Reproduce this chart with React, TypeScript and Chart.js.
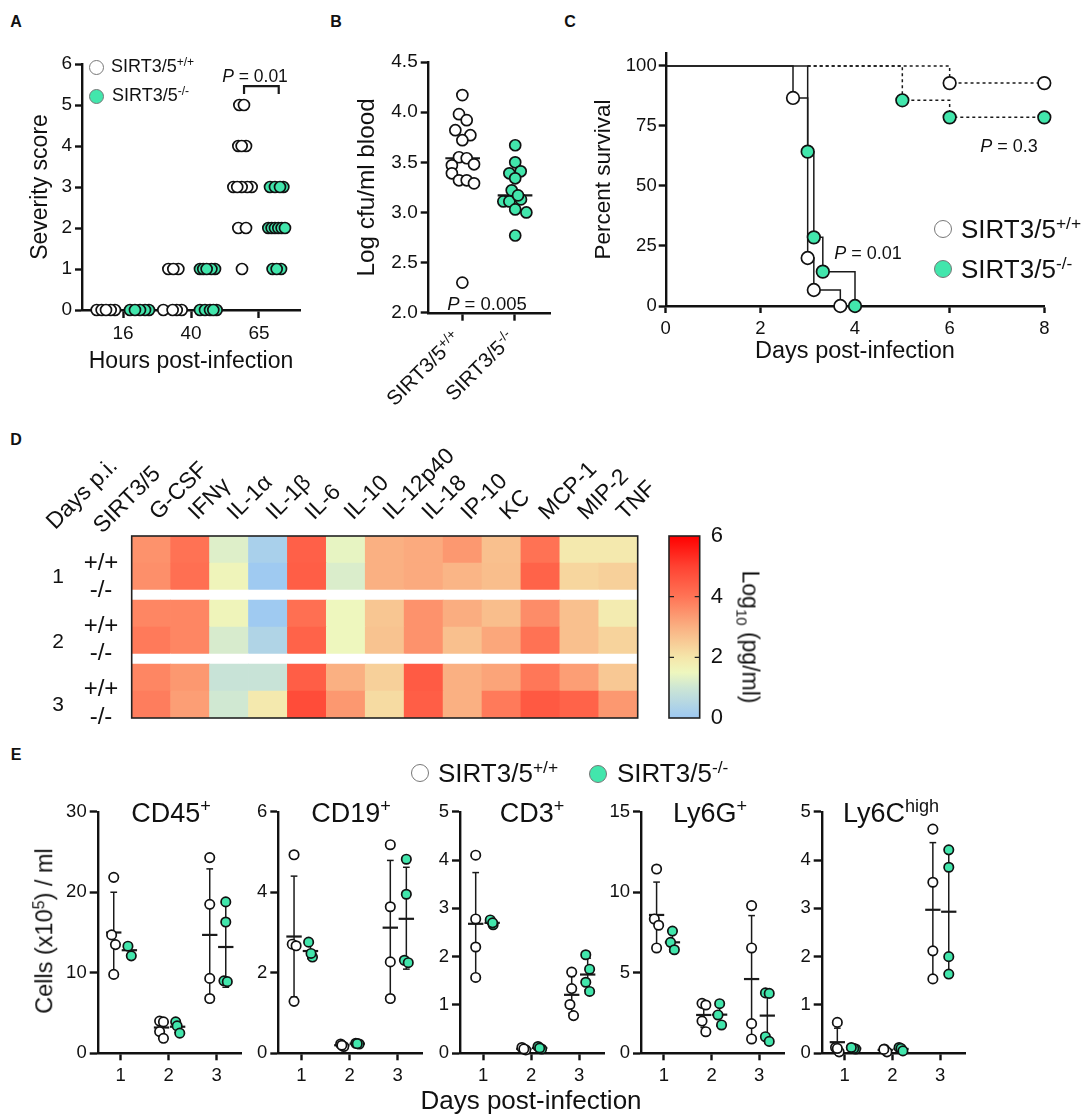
import React, { useEffect, useRef } from "react";
import { Chart, registerables } from "chart.js";

Chart.register(...registerables);
Chart.defaults.font.family = "'Liberation Sans', Arial, sans-serif";
Chart.defaults.color = "#111";

// ---------- Panel A: severity score ----------
const hoursLabels = ["16", "40", "65"];
const severityTicks = [0, 1, 2, 3, 4, 5, 6];
const severityWt = [
  [0.613, 0], [0.686, 0], [0.882, 0], [0.819, 0], [0.75, 0],
  [1.593, 0], [1.863, 0], [1.79, 0], [1.73, 0],
  [1.667, 1], [1.814, 1], [1.74, 1],
  [2.75, 1], [2.696, 2], [2.809, 2],
  [2.623, 3], [2.892, 3], [2.828, 3], [2.745, 3], [2.68, 3],
  [2.696, 4], [2.809, 4], [2.745, 4],
  [2.711, 5], [2.779, 5],
];
const severityKo = [
  [1.103, 0], [1.382, 0], [1.324, 0], [1.25, 0], [1.176, 0],
  [2.132, 0], [2.377, 0], [2.206, 0], [2.28, 0], [2.328, 0],
  [2.132, 1], [2.18, 1], [2.353, 1], [2.30, 1], [2.23, 1],
  [3.2, 1], [3.324, 1], [3.26, 1],
  [3.137, 2], [3.186, 2], [3.235, 2], [3.284, 2], [3.333, 2], [3.382, 2],
  [3.162, 3], [3.358, 3], [3.235, 3], [3.309, 3],
];
const severityBracket = [[2.78, 5.27], [2.78, 5.46], [3.29, 5.46], [3.29, 5.27]];

// ---------- Panel B: blood cfu ----------
const cfuTicks = [2.0, 2.5, 3.0, 3.5, 4.0, 4.5];
const cfuWt = [
  [1.0, 4.17], [0.936, 3.98], [1.083, 3.92], [0.866, 3.82], [1.153, 3.77], [1.0, 3.72],
  [0.936, 3.55], [1.083, 3.54], [0.8, 3.47], [1.223, 3.48], [0.8, 3.39], [0.936, 3.32],
  [1.083, 3.32], [1.223, 3.29], [1.0, 2.3],
];
const cfuKo = [
  [2.01, 3.67], [2.01, 3.5], [1.898, 3.39], [2.115, 3.41], [2.12, 3.13], [2.01, 3.34],
  [1.943, 3.22], [1.783, 3.11], [1.898, 3.11], [2.064, 3.17], [2.01, 3.03], [2.223, 3.0], [2.01, 2.77],
];
const cfuMeanWt = [[0.675, 3.54], [1.337, 3.54]];
const cfuMeanKo = [[1.675, 3.17], [2.338, 3.17]];

// ---------- Panel C: survival ----------
const survivalXTicks = [0, 2, 4, 6, 8];
const survivalYTicks = [0, 25, 50, 75, 100];
const survWtSolid = [[0, 100], [2.69, 86.67], [3.0, 20], [3.13, 6.67], [3.69, 0], [4, 0]];
const survKoSolid = [[0, 100], [3.0, 64.3], [3.13, 28.6], [3.32, 14.3], [4.0, 0]];
const survWtDash = [[3, 100], [6, 92.86], [8, 92.86]];
const survKoDash = [[3, 100], [5, 85.7], [6, 78.6], [8, 78.6]];
const survWtMarks = [[2.69, 86.67], [3.0, 20], [3.13, 6.67], [3.69, 0], [6, 92.86], [8, 92.86]];
const survKoMarks = [[3.0, 64.3], [3.13, 28.6], [3.32, 14.3], [4.0, 0], [5, 85.7], [6, 78.6], [8, 78.6]];

// ---------- Panel D: heat map (log10 pg/ml) ----------
const cytokines = ["G-CSF", "IFNγ", "IL-1α", "IL-1β", "IL-6", "IL-10", "IL-12p40", "IL-18", "IP-10", "KC", "MCP-1", "MIP-2", "TNF"];
const day1Wt = [3.5, 4.05, 1.25, 0.25, 4.4, 1.4, 3.0, 3.1, 3.4, 2.7, 4.05, 1.9, 1.9];
const day1Ko = [3.55, 4.1, 1.6, 0.05, 4.45, 1.2, 3.0, 3.1, 2.9, 2.75, 4.35, 2.3, 2.4];
const day2Wt = [3.7, 3.7, 1.6, 0.05, 4.1, 1.5, 2.6, 3.5, 3.05, 2.75, 3.6, 2.7, 1.85];
const day2Ko = [3.9, 3.7, 1.15, 0.4, 4.35, 1.5, 2.65, 3.5, 2.7, 3.15, 4.05, 2.7, 2.35];
const day3Wt = [3.7, 3.4, 0.9, 0.9, 4.45, 3.0, 2.4, 4.5, 3.0, 3.2, 3.95, 3.3, 2.55];
const day3Ko = [3.85, 3.3, 1.05, 1.9, 4.8, 3.4, 2.2, 4.45, 3.0, 3.9, 4.55, 4.35, 3.4];
const colorStops: [number, number[]][] = [
  [0, [157, 200, 242]], [1, [205, 230, 212]], [1.5, [238, 247, 190]], [2, [245, 230, 170]],
  [3, [250, 176, 130]], [4, [255, 116, 86]], [5, [255, 66, 50]], [6, [255, 0, 0]],
];
const colorbarTicks = [0, 2, 4, 6];

// ---------- Panel E: cell counts; bars are [x, mean, sd low, sd high] ----------
const dayLabels = ["1", "2", "3"];
const cd45Ticks = [0, 10, 20, 30];
const cd45Wt = [[0.854, 21.85], [0.81, 14.7], [0.89, 13.5], [0.854, 9.8], [1.81, 4.0], [1.89, 3.9], [1.81, 2.7], [1.89, 1.86], [2.854, 24.3], [2.854, 18.5], [2.854, 9.3], [2.854, 6.8]];
const cd45Ko = [[1.15, 13.3], [1.22, 12.1], [2.145, 3.9], [2.175, 3.4], [2.23, 2.5], [3.188, 18.8], [3.188, 16.3], [3.15, 9.0], [3.22, 8.9]];
const cd45Bars = [[0.854, 15, 10, 20], [1.18, 12.8, 12.2, 13.4], [1.85, 3.2, 2.2, 4.1], [2.185, 3.3, 2.6, 4.0], [2.854, 14.7, 6.6, 22.9], [3.188, 13.2, 8.2, 18.4]];

const cd19Ticks = [0, 2, 4, 6];
const cd19Wt = [[0.847, 4.93], [0.81, 2.71], [0.89, 2.67], [0.847, 1.29], [1.815, 0.23], [1.88, 0.17], [1.84, 0.2], [2.847, 5.18], [2.847, 3.64], [2.847, 2.27], [2.847, 1.36]];
const cd19Ko = [[1.15, 2.76], [1.23, 2.39], [1.2, 2.48], [2.13, 0.25], [2.2, 0.23], [2.16, 0.24], [3.18, 4.82], [3.18, 3.95], [3.14, 2.31], [3.22, 2.25]];
const cd19Bars = [[0.847, 2.9, 1.4, 4.4], [1.188, 2.54, 2.35, 2.75], [1.84, 0.2, 0.17, 0.23], [2.16, 0.24, 0.22, 0.26], [2.847, 3.12, 1.45, 4.79], [3.18, 3.34, 2.09, 4.62]];

const cd3Ticks = [0, 1, 2, 3, 4, 5];
const cd3Wt = [[0.847, 4.1], [0.847, 2.78], [0.847, 2.2], [0.847, 1.57], [1.81, 0.12], [1.89, 0.07], [1.85, 0.09], [2.847, 1.68], [2.847, 1.34], [2.81, 1.01], [2.885, 0.78]];
const cd3Ko = [[1.15, 2.76], [1.21, 2.66], [1.2, 2.7], [2.145, 0.14], [2.22, 0.09], [2.18, 0.11], [3.14, 2.04], [3.22, 1.74], [3.14, 1.47], [3.22, 1.28]];
const cd3Bars = [[0.847, 2.68, 1.62, 3.74], [1.19, 2.7, 2.64, 2.76], [1.85, 0.09, 0.06, 0.12], [2.18, 0.11, 0.08, 0.14], [2.847, 1.21, 0.83, 1.59], [3.18, 1.63, 1.31, 1.97]];

const ly6gTicks = [0, 5, 10, 15];
const ly6gWt = [[0.847, 11.44], [0.8, 8.34], [0.89, 7.95], [0.847, 6.54], [1.8, 3.1], [1.88, 3.0], [1.8, 2.0], [1.88, 1.34], [2.84, 9.17], [2.84, 6.54], [2.84, 1.84], [2.84, 0.89]];
const ly6gKo = [[1.18, 7.59], [1.14, 6.89], [1.22, 6.43], [2.17, 3.08], [2.135, 2.38], [2.21, 1.76], [3.13, 3.75], [3.21, 3.72], [3.13, 1.03], [3.21, 0.74]];
const ly6gBars = [[0.847, 8.59, 6.55, 10.63], [1.18, 6.89, 6.3, 7.5], [1.836, 2.38, 1.6, 3.1], [2.17, 2.4, 1.7, 3.1], [2.84, 4.61, 0.7, 8.55], [3.17, 2.34, 0.85, 3.7]];

const ly6cTicks = [0, 1, 2, 3, 4, 5];
const ly6cWt = [[0.847, 0.64], [0.81, 0.12], [0.885, 0.03], [0.847, 0.1], [1.83, 0.09], [1.885, 0.03], [1.82, 0.08], [2.847, 4.64], [2.847, 3.54], [2.847, 2.12], [2.847, 1.54]];
const ly6cKo = [[1.23, 0.09], [1.19, 0.1], [1.14, 0.12], [2.14, 0.12], [2.18, 0.1], [2.22, 0.05], [3.18, 4.21], [3.18, 3.85], [3.18, 2.0], [3.18, 1.64]];
const ly6cBars = [[0.847, 0.23, 0.05, 0.52], [1.19, 0.1, 0.08, 0.12], [1.85, 0.07, 0.04, 0.1], [2.18, 0.09, 0.06, 0.12], [2.847, 2.97, 1.58, 4.36], [3.18, 2.93, 1.65, 4.2]];

// ---------- Styles ----------
const FONT = "'Liberation Sans', Arial, sans-serif";
const WT = "#ffffff";
const KO = "#42E6AC";
const INK = "#111111";

type Pair = number[];
const toXY = (rows: Pair[]) => rows.map(([x, y]) => ({ x, y }));

const dots = (rows: Pair[], fill: string, r: number, bw = 1.7) => ({
  data: toXY(rows),
  showLine: false,
  pointRadius: r,
  pointHoverRadius: r,
  pointBackgroundColor: fill,
  pointBorderColor: INK,
  pointBorderWidth: bw,
  clip: false,
});

const path = (rows: Pair[], width: number, extra: any = {}) => ({
  data: toXY(rows),
  showLine: true,
  borderColor: "#1a1a1a",
  borderWidth: width,
  pointRadius: 0,
  tension: 0,
  clip: false,
  ...extra,
});

const errorBars = (bars: Pair[]) =>
  bars.flatMap(([x, mean, lo, hi]) => [
    path([[x, lo], [x, hi]], 1.5),
    path([[x - 0.07, hi], [x + 0.07, hi]], 1.5),
    path([[x - 0.07, lo], [x + 0.07, lo]], 1.5),
    path([[x - 0.16, mean], [x + 0.16, mean]], 2.2),
  ]);

type Box = { left: number; top: number; right: number; bottom: number };
type Plot = { l: number; t: number; r: number; b: number };

const axisBase = (ticksAt: number[], size: number, len: number, pad: number, labels?: string[]) => ({
  type: "linear",
  grid: { drawOnChartArea: false, drawTicks: true, tickLength: len, tickWidth: 2.4, tickColor: INK },
  border: { display: true, color: INK, width: 2.4 },
  afterBuildTicks: (s: any) => {
    s.ticks = ticksAt.map((value) => ({ value }));
  },
  ticks: {
    autoSkip: false,
    maxRotation: 0,
    minRotation: 0,
    includeBounds: false,
    padding: pad,
    color: INK,
    font: { size, family: FONT },
    callback: (v: number, i: number) => (labels ? labels[i] : String(v)),
  },
});

function xyOptions(box: Box, plot: Plot, x: any, y: any): any {
  return {
    responsive: false,
    animation: false,
    devicePixelRatio: 1,
    layout: {
      padding: { left: 0, top: plot.t - box.top, right: box.right - plot.r, bottom: 0 },
    },
    plugins: { legend: { display: false }, tooltip: { enabled: false } },
    scales: {
      x: { ...x, afterFit: (s: any) => { s.height = box.bottom - plot.b; } },
      y: { ...y, afterFit: (s: any) => { s.width = plot.l - box.left; } },
    },
  };
}

function ChartBox({ box, make }: { box: Box; make: () => any }) {
  const ref = useRef<HTMLCanvasElement | null>(null);
  useEffect(() => {
    const chart = new Chart(ref.current as HTMLCanvasElement, make());
    return () => chart.destroy();
  }, []);
  const w = box.right - box.left;
  const h = box.bottom - box.top;
  return (
    <canvas
      ref={ref}
      width={w}
      height={h}
      style={{ position: "absolute", left: box.left, top: box.top, width: w, height: h }}
    />
  );
}

// Text helpers
function Txt({ x, y, size, children, bold, anchor = "center", rotate = 0 }: any) {
  const origin = anchor === "start" ? "left center" : anchor === "end" ? "right center" : "center center";
  const shift = anchor === "start" ? "translate(0,-50%)" : anchor === "end" ? "translate(-100%,-50%)" : "translate(-50%,-50%)";
  return (
    <div
      style={{
        position: "absolute",
        left: x,
        top: y,
        fontFamily: FONT,
        fontSize: size,
        fontWeight: bold ? 700 : 400,
        lineHeight: 1,
        color: INK,
        whiteSpace: "nowrap",
        transformOrigin: origin,
        transform: `${shift} rotate(${rotate}deg)`,
      }}
    >
      {children}
    </div>
  );
}
const Sup = ({ children, s = 0.67 }: any) => (
  <sup style={{ fontSize: `${s}em`, lineHeight: 0, verticalAlign: "0.5em" }}>{children}</sup>
);
const Pval = ({ v }: { v: string }) => (
  <>
    <i>P</i> = {v}
  </>
);
const Dot = ({ x, y, d, fill }: any) => (
  <div
    style={{
      position: "absolute",
      left: x - d / 2,
      top: y - d / 2,
      width: d,
      height: d,
      boxSizing: "border-box",
      borderRadius: "50%",
      background: fill,
      border: "1.5px solid #777",
    }}
  />
);
const Geno = ({ ko }: { ko?: boolean }) => (
  <>
    SIRT3/5<Sup>{ko ? "-/-" : "+/+"}</Sup>
  </>
);

// ---------- Chart configs ----------
function severityChart(box: Box) {
  const plot = { l: 82, t: 64, r: 300, b: 310 };
  const o = xyOptions(
    box, plot,
    { ...axisBase([1, 2, 3], 19, 8, 4, hoursLabels), min: 0.397, max: 3.603,
      title: { display: true, text: "Hours post-infection", font: { size: 23, family: FONT }, color: INK, padding: 0 } },
    { ...axisBase(severityTicks, 19, 7, 3), min: 0, max: 6,
      title: { display: true, text: "Severity score", font: { size: 23, family: FONT }, color: INK, padding: 0 } }
  );
  return {
    type: "scatter",
    data: { datasets: [dots(severityKo, KO, 5.5), dots(severityWt, WT, 5.5), path(severityBracket, 2.2)] },
    options: o,
  };
}

function cfuChart(box: Box) {
  const plot = { l: 428.7, t: 62, r: 550.7, b: 312.7 };
  const o = xyOptions(
    box, plot,
    { ...axisBase([1, 2], 19, 8, 3, ["", ""]), min: 0.357, max: 2.688 },
    { ...axisBase(cfuTicks, 19, 8, 3), min: 2, max: 4.5,
      ticks: { ...axisBase(cfuTicks, 19, 8, 3).ticks, callback: (v: number) => v.toFixed(1) },
      title: { display: true, text: "Log cfu/ml blood", font: { size: 24.3, family: FONT }, color: INK, padding: 0 } }
  );
  return {
    type: "scatter",
    data: { datasets: [dots(cfuWt, WT, 5.5), dots(cfuKo, KO, 5.5), path(cfuMeanWt, 2.2), path(cfuMeanKo, 2.2)] },
    options: o,
  };
}

function survivalChart(box: Box) {
  const plot = { l: 665.7, t: 53, r: 1044.3, b: 306 };
  const o = xyOptions(
    box, plot,
    { ...axisBase(survivalXTicks, 18.5, 7, 5), min: 0, max: 8,
      title: { display: true, text: "Days post-infection", font: { size: 23.5, family: FONT }, color: INK, padding: 0 } },
    { ...axisBase(survivalYTicks, 18.5, 7, 2), min: 0, max: 105.4,
      title: { display: true, text: "Percent survival", font: { size: 22.5, family: FONT }, color: INK, padding: 0 } }
  );
  return {
    type: "scatter",
    data: {
      datasets: [
        dots(survKoMarks, KO, 6.3),
        dots(survWtMarks, WT, 6.3),
        path(survWtSolid, 1.5, { stepped: "before" }),
        path(survKoSolid, 1.5, { stepped: "before" }),
        path(survWtDash, 1.5, { stepped: "before", borderDash: [3, 3] }),
        path(survKoDash, 1.5, { stepped: "before", borderDash: [3, 3] }),
      ],
    },
    options: o,
  };
}

function heatColor(v: number) {
  for (let i = 1; i < colorStops.length; i++) {
    const [p1, c1] = colorStops[i];
    const [p0, c0] = colorStops[i - 1];
    if (v <= p1) {
      const t = (v - p0) / (p1 - p0);
      const c = c0.map((a, k) => Math.round(a + (c1[k] - a) * t));
      return `rgb(${c[0]},${c[1]},${c[2]})`;
    }
  }
  return "rgb(255,0,0)";
}

const framePlugin = {
  id: "frame",
  afterDraw(chart: any) {
    const { ctx, chartArea: a } = chart;
    ctx.save();
    ctx.strokeStyle = "#222";
    ctx.lineWidth = 1.6;
    ctx.strokeRect(a.left, a.top, a.right - a.left, a.bottom - a.top);
    ctx.restore();
  },
};

function heatChart(box: Box) {
  const plot = { l: 131.7, t: 536, r: 637.7, b: 718 };
  const GAP = 10 / 27;
  const cell = (rows: number[]) => ({
    data: rows.map(() => 1),
    backgroundColor: rows.map(heatColor),
    borderWidth: 0,
    stack: "a",
    barPercentage: 1,
    categoryPercentage: 1,
  });
  const gap = () => ({
    data: cytokines.map(() => GAP),
    backgroundColor: "#ffffff",
    borderWidth: 0,
    stack: "a",
    barPercentage: 1,
    categoryPercentage: 1,
  });
  return {
    type: "bar",
    data: {
      labels: cytokines,
      datasets: [cell(day3Ko), cell(day3Wt), gap(), cell(day2Ko), cell(day2Wt), gap(), cell(day1Ko), cell(day1Wt)],
    },
    plugins: [framePlugin],
    options: {
      responsive: false,
      animation: false,
      devicePixelRatio: 1,
      layout: { padding: { left: plot.l - box.left, top: 0, right: box.right - plot.r, bottom: box.bottom - plot.b } },
      plugins: { legend: { display: false }, tooltip: { enabled: false } },
      scales: {
        x: {
          position: "top",
          stacked: true,
          grid: { display: false, drawTicks: false },
          border: { display: false },
          afterFit: (s: any) => { s.height = plot.t - box.top; },
          ticks: { autoSkip: false, minRotation: 45, maxRotation: 45, padding: 10, labelOffset: 22, color: INK, font: { size: 22.8, family: FONT } },
        },
        y: { display: false, stacked: true, min: 0, max: 6 + 2 * GAP },
      },
    },
  };
}

const innerTicks = {
  id: "innerTicks",
  afterDraw(chart: any) {
    const { ctx, chartArea: a, scales } = chart;
    ctx.save();
    ctx.strokeStyle = "#222";
    ctx.lineWidth = 1.4;
    [2, 4].forEach((v) => {
      const y = scales.y.getPixelForValue(v);
      ctx.beginPath();
      ctx.moveTo(a.left, y);
      ctx.lineTo(a.left + 5, y);
      ctx.moveTo(a.right - 5, y);
      ctx.lineTo(a.right, y);
      ctx.stroke();
    });
    ctx.restore();
  },
};

function colorbarChart(box: Box) {
  const plot = { l: 669, t: 536, r: 699.7, b: 718 };
  return {
    type: "bar",
    data: {
      labels: [""],
      datasets: [
        {
          data: [6],
          barPercentage: 1,
          categoryPercentage: 1,
          borderWidth: 0,
          backgroundColor: (c: any) => {
            const a = c.chart.chartArea;
            if (!a) return "#fff";
            const g = c.chart.ctx.createLinearGradient(0, a.bottom, 0, a.top);
            colorStops.forEach(([p, col]) => g.addColorStop(p / 6, `rgb(${col[0]},${col[1]},${col[2]})`));
            return g;
          },
        },
      ],
    },
    plugins: [framePlugin, innerTicks],
    options: {
      responsive: false,
      animation: false,
      devicePixelRatio: 1,
      layout: { padding: { left: plot.l - box.left, top: plot.t - box.top, right: 0, bottom: box.bottom - plot.b } },
      plugins: { legend: { display: false }, tooltip: { enabled: false } },
      scales: {
        x: { display: false },
        y: {
          position: "right",
          min: 0,
          max: 6,
          grid: { display: false, drawTicks: false },
          border: { display: false },
          afterBuildTicks: (s: any) => { s.ticks = colorbarTicks.map((value) => ({ value })); },
          afterFit: (s: any) => { s.width = box.right - plot.r; },
          ticks: { padding: 11, color: INK, font: { size: 22, family: FONT } },
        },
      },
    },
  };
}

function cellChart(box: Box, plot: Plot, yMax: number, ticksAt: number[], wt: Pair[], ko: Pair[], bars: Pair[]) {
  const o = xyOptions(
    box, plot,
    { ...axisBase([1, 2, 3], 18.5, 7, 5, dayLabels), min: 0.52, max: 3.52 },
    { ...axisBase(ticksAt, 18.5, 8, 3), min: 0, max: yMax }
  );
  return {
    type: "scatter",
    data: { datasets: [dots(ko, KO, 4.7), dots(wt, WT, 4.7), ...errorBars(bars)] },
    options: o,
  };
}

const boxA = { left: 27, top: 40, right: 320, bottom: 375 };
const boxB = { left: 353, top: 40, right: 575, bottom: 345 };
const boxC = { left: 590, top: 30, right: 1075, bottom: 366 };
const boxD = { left: 120, top: 430, right: 700, bottom: 730 };
const boxBar = { left: 660, top: 505, right: 740, bottom: 748 };
const E_TOP = 785;
const E_BOTTOM = 1095;

export default function App() {
  const eBoxes = [
    { left: 50, right: 255 },
    { left: 245, right: 436 },
    { left: 427, right: 618 },
    { left: 600, right: 798 },
    { left: 790, right: 980 },
  ].map((b) => ({ ...b, top: E_TOP, bottom: E_BOTTOM }));
  return (
    <div style={{ position: "absolute", left: 0, top: 0, width: 1084, height: 1117, background: "#fff", overflow: "hidden" }}>
      <ChartBox box={boxA} make={() => severityChart(boxA)} />
      <ChartBox box={boxB} make={() => cfuChart(boxB)} />
      <ChartBox box={boxC} make={() => survivalChart(boxC)} />
      <ChartBox box={boxD} make={() => heatChart(boxD)} />
      <ChartBox box={boxBar} make={() => colorbarChart(boxBar)} />
      <ChartBox box={eBoxes[0]} make={() => cellChart(eBoxes[0], { l: 97.7, t: 811.7, r: 241.7, b: 1053.3 }, 30, cd45Ticks, cd45Wt, cd45Ko, cd45Bars)} />
      <ChartBox box={eBoxes[1]} make={() => cellChart(eBoxes[1], { l: 278.3, t: 811.7, r: 422.7, b: 1053.3 }, 6, cd19Ticks, cd19Wt, cd19Ko, cd19Bars)} />
      <ChartBox box={eBoxes[2]} make={() => cellChart(eBoxes[2], { l: 460, t: 811.7, r: 604, b: 1053.3 }, 5, cd3Ticks, cd3Wt, cd3Ko, cd3Bars)} />
      <ChartBox box={eBoxes[3]} make={() => cellChart(eBoxes[3], { l: 641, t: 811.7, r: 784, b: 1053.3 }, 15, ly6gTicks, ly6gWt, ly6gKo, ly6gBars)} />
      <ChartBox box={eBoxes[4]} make={() => cellChart(eBoxes[4], { l: 821.7, t: 811.7, r: 965, b: 1053.3 }, 5, ly6cTicks, ly6cWt, ly6cKo, ly6cBars)} />

      {/* panel letters */}
      <Txt x={16} y={22} size={16} bold>A</Txt>
      <Txt x={336} y={22} size={16} bold>B</Txt>
      <Txt x={570} y={22} size={16} bold>C</Txt>
      <Txt x={16} y={440} size={16} bold>D</Txt>
      <Txt x={16} y={755} size={16} bold>E</Txt>

      {/* A */}
      <Dot x={96} y={67} d={15} fill={WT} />
      <Dot x={96} y={96} d={15} fill={KO} />
      <Txt x={111} y={66} size={18} anchor="start"><Geno /></Txt>
      <Txt x={112} y={95} size={18} anchor="start"><Geno ko /></Txt>
      <Txt x={255} y={77} size={17.5}><Pval v="0.01" /></Txt>

      {/* B */}
      <Txt x={487} y={304} size={18.5}><Pval v="0.005" /></Txt>
      <Txt x={457} y={335} size={20.5} anchor="end" rotate={-45}><Geno /></Txt>
      <Txt x={511} y={335} size={20.5} anchor="end" rotate={-45}><Geno ko /></Txt>

      {/* C */}
      <Txt x={1009} y={146} size={18}><Pval v="0.3" /></Txt>
      <Txt x={868} y={253} size={18}><Pval v="0.01" /></Txt>
      <Dot x={943} y={229} d={18} fill={WT} />
      <Dot x={943} y={269} d={18} fill={KO} />
      <Txt x={961} y={229} size={26} anchor="start"><Geno /></Txt>
      <Txt x={961} y={269} size={26} anchor="start"><Geno ko /></Txt>

      {/* D */}
      <Txt x={50} y={525} size={23} anchor="start" rotate={-45}>Days p.i.</Txt>
      <Txt x={97} y={529} size={23} anchor="start" rotate={-45}>SIRT3/5</Txt>
      <Txt x={58} y={575} size={21}>1</Txt>
      <Txt x={58} y={640} size={21}>2</Txt>
      <Txt x={58} y={703} size={21}>3</Txt>
      <Txt x={101} y={562} size={24}>+/+</Txt>
      <Txt x={101} y={589} size={24}>-/-</Txt>
      <Txt x={101} y={625} size={24}>+/+</Txt>
      <Txt x={101} y={652} size={24}>-/-</Txt>
      <Txt x={101} y={688} size={24}>+/+</Txt>
      <Txt x={101} y={716} size={24}>-/-</Txt>
      <Txt x={750} y={637} size={23} rotate={90}>Log<sub style={{ fontSize: "0.65em", lineHeight: 0 }}>10</sub> (pg/ml)</Txt>

      {/* E */}
      <Txt x={45} y={931} size={23.5} rotate={-90}>Cells (x10<Sup s={0.68}>5</Sup>) / ml</Txt>
      <Dot x={420} y={773} d={18} fill={WT} />
      <Dot x={598} y={774} d={18} fill={KO} />
      <Txt x={438} y={773} size={26} anchor="start"><Geno /></Txt>
      <Txt x={617} y={773} size={26} anchor="start"><Geno ko /></Txt>
      <Txt x={171} y={813} size={27}>CD45<Sup>+</Sup></Txt>
      <Txt x={351} y={813} size={27}>CD19<Sup>+</Sup></Txt>
      <Txt x={532} y={813} size={27}>CD3<Sup>+</Sup></Txt>
      <Txt x={710} y={813} size={27}>Ly6G<Sup>+</Sup></Txt>
      <Txt x={891} y={813} size={27}>Ly6C<Sup>high</Sup></Txt>
      <Txt x={531} y={1100} size={26}>Days post-infection</Txt>
    </div>
  );
}
